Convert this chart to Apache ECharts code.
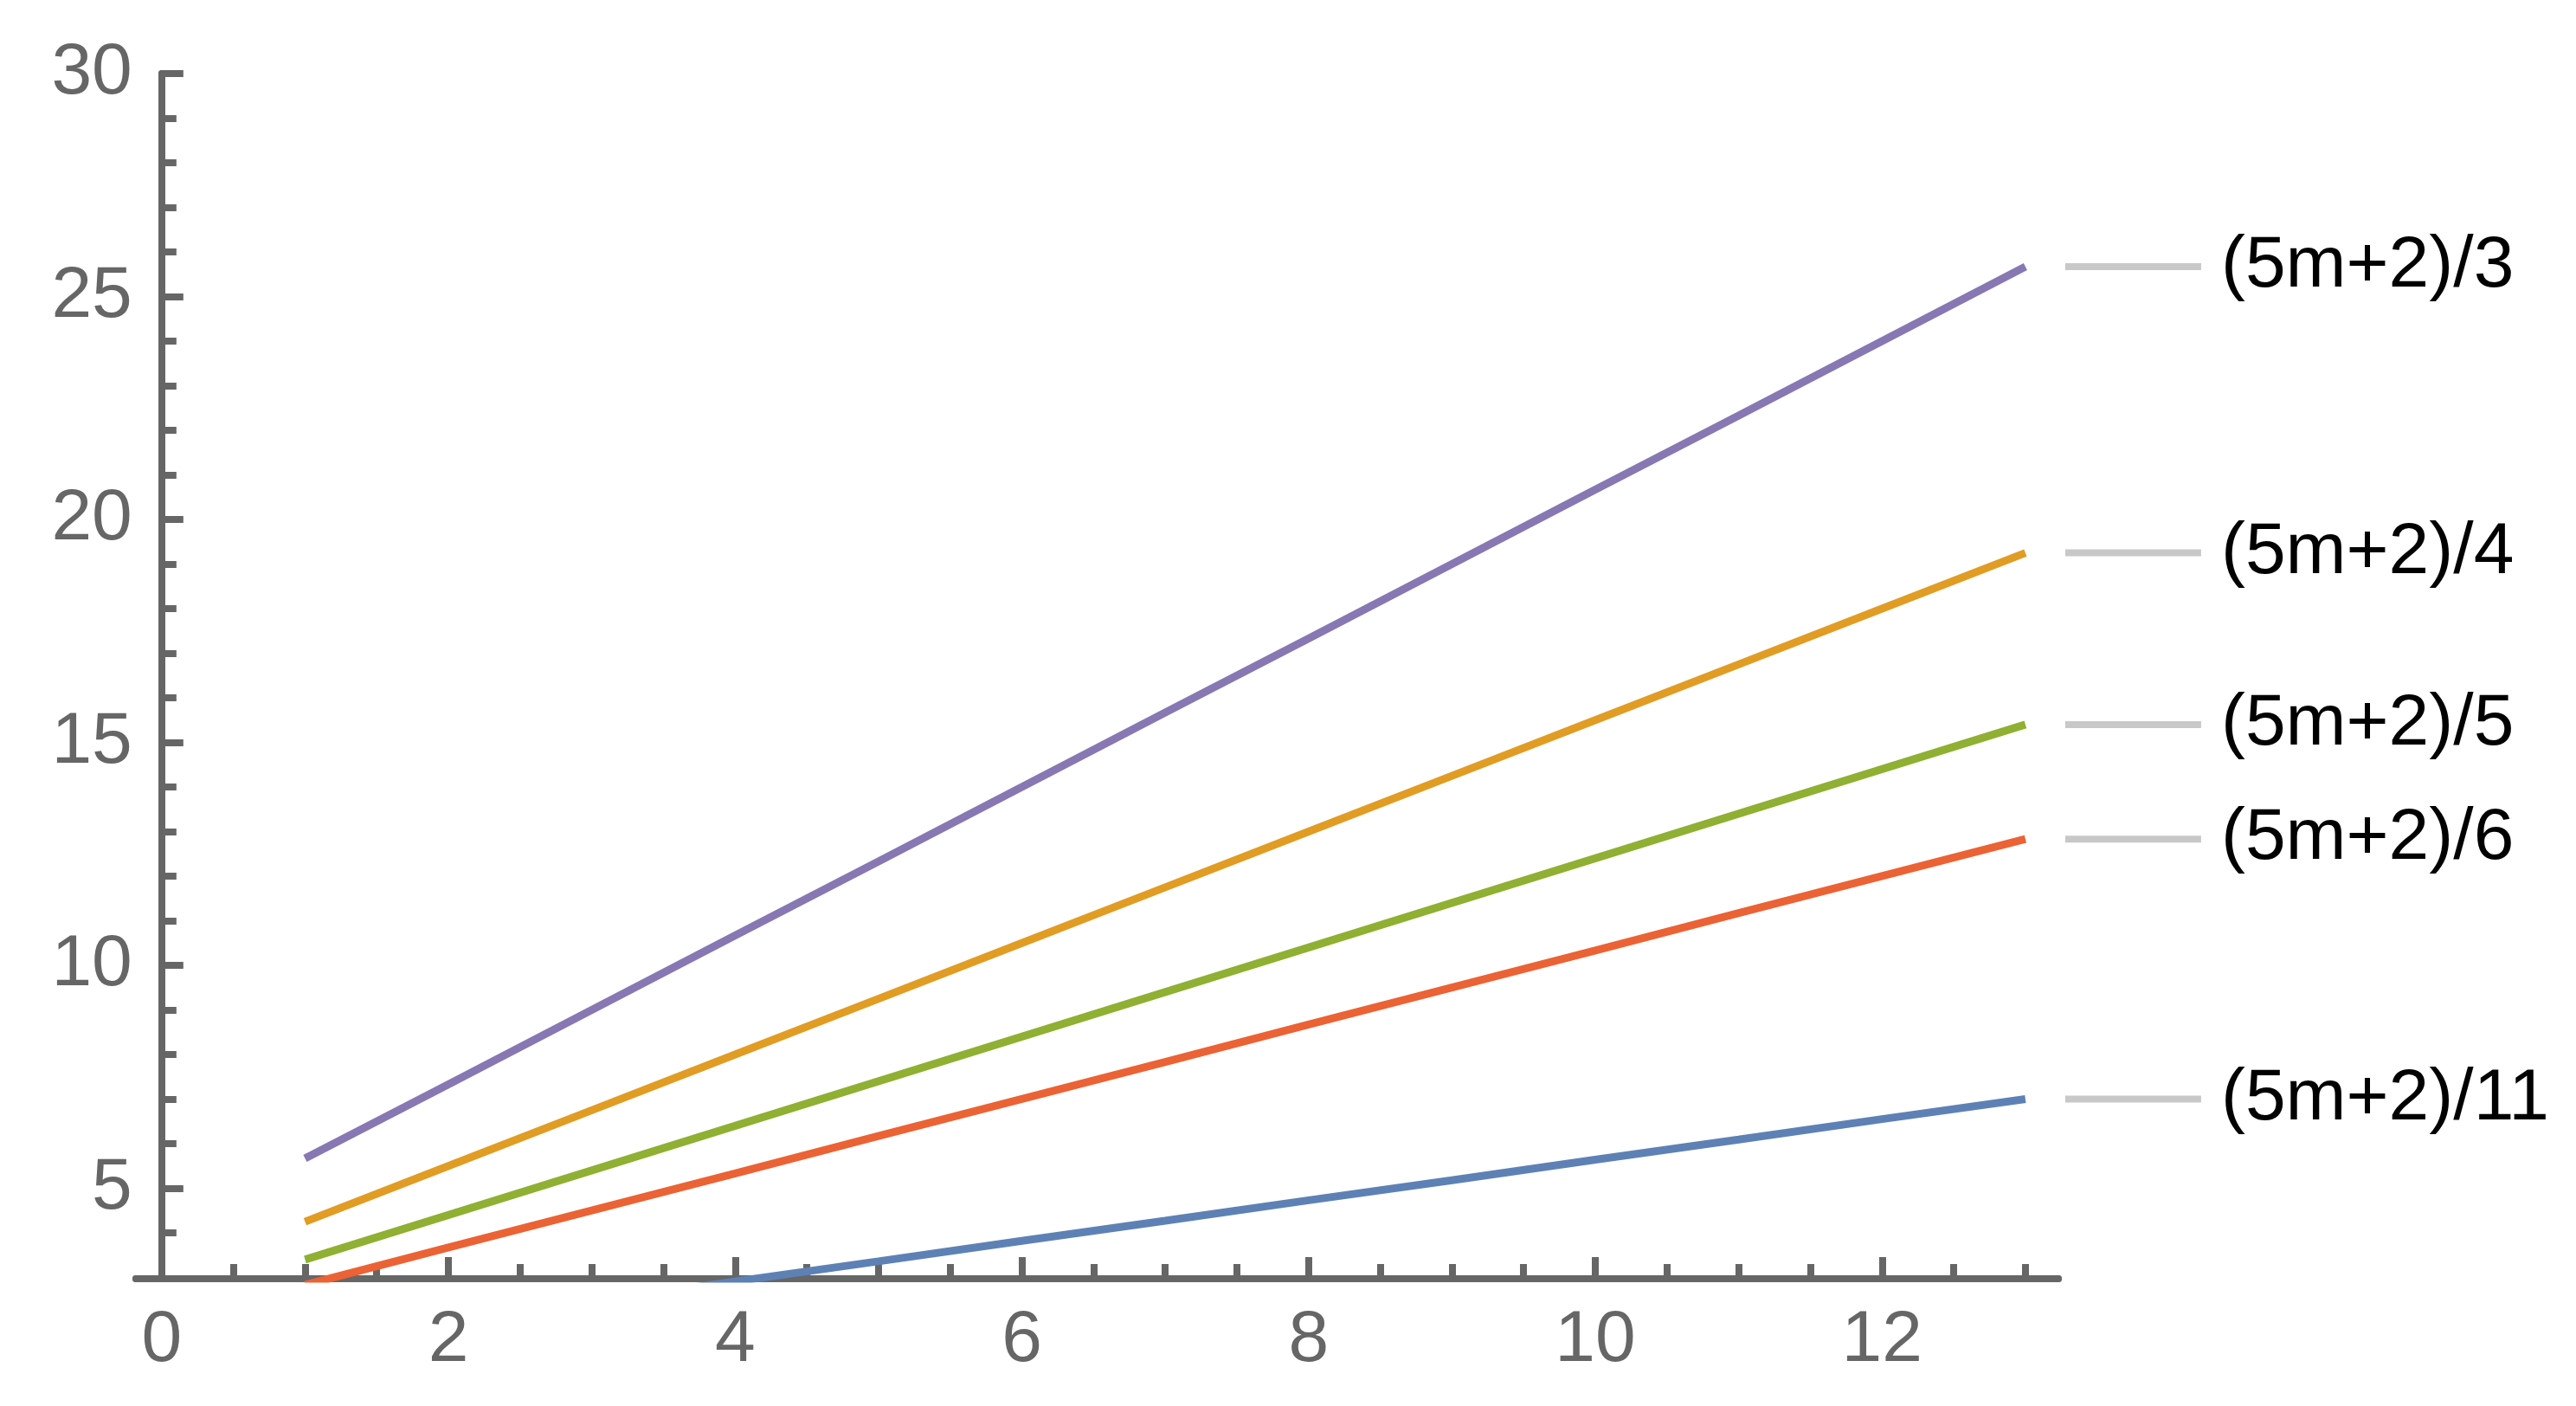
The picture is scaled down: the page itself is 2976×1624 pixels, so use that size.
<!DOCTYPE html>
<html>
<head>
<meta charset="utf-8">
<script src="https://cdn.jsdelivr.net/npm/echarts@6/dist/echarts.min.js"></script>
<style>
  html, body { margin: 0; padding: 0; background: #fff; }
  #chart { width: 2976px; height: 1624px; }
</style>
</head>
<body>
<div id="chart"></div>
<script>
// x positions of the plotted points
const xValues = [1, 2, 3, 4, 5, 6, 7, 8, 9, 10, 11, 12, 13]

// values, one list per curve
const valuesDiv3 = [5.67, 7.33, 9.0, 10.67, 12.33, 14.0, 15.67, 17.33, 19.0, 20.67, 22.33, 24.0, 25.67]
const valuesDiv4 = [4.25, 5.5, 6.75, 8.0, 9.25, 10.5, 11.75, 13.0, 14.25, 15.5, 16.75, 18.0, 19.25]
const valuesDiv5 = [3.4, 4.4, 5.4, 6.4, 7.4, 8.4, 9.4, 10.4, 11.4, 12.4, 13.4, 14.4, 15.4]
const valuesDiv6 = [2.83, 3.67, 4.5, 5.33, 6.17, 7.0, 7.83, 8.67, 9.5, 10.33, 11.17, 12.0, 12.83]
const valuesDiv11 = [1.55, 2.0, 2.45, 2.91, 3.36, 3.82, 4.27, 4.73, 5.18, 5.64, 6.09, 6.55, 7.0]

const seriesNames = ['(5m+2)/3', '(5m+2)/4', '(5m+2)/5', '(5m+2)/6', '(5m+2)/11']
const seriesValues = [valuesDiv3, valuesDiv4, valuesDiv5, valuesDiv6, valuesDiv11]
const seriesColors = ['#8778B3', '#E19C24', '#8FB032', '#EB6235', '#5E81B5']

// tick positions
const xMajorTicks = [0, 2, 4, 6, 8, 10, 12]
const xMinorTicks = [0.5, 1, 1.5, 2.5, 3, 3.5, 4.5, 5, 5.5, 6.5, 7, 7.5, 8.5, 9, 9.5, 10.5, 11, 11.5, 12.5, 13]
const yMajorTicks = [5, 10, 15, 20, 25, 30]
const yMinorTicks = [4, 6, 7, 8, 9, 11, 12, 13, 14, 16, 17, 18, 19, 21, 22, 23, 24, 26, 27, 28, 29]

const X_MIN = -0.18, X_MAX = 13.23
const Y_MIN = 2.97, Y_MAX = 30

const GRID = { left: 157, right: 598, top: 85, bottom: 147 }
const WIDTH = 2976
// the y axis stands at x = 0, a little inside the left edge of the x axis
const yAxisShift = (0 - X_MIN) / (X_MAX - X_MIN) * (WIDTH - GRID.left - GRID.right)

const FONT = '"Liberation Sans", Arial, sans-serif'
const AXIS_GRAY = '#666666'
const axisLineStyle = { color: AXIS_GRAY, width: 8 }

const chart = echarts.init(document.getElementById('chart'))

const makeX = (ticks, len, withLabels) => ({
  type: 'value',
  min: X_MIN,
  max: X_MAX,
  position: 'bottom',
  axisLine: { show: true, onZero: false, lineStyle: axisLineStyle },
  axisTick: { show: true, inside: true, length: len, customValues: ticks, lineStyle: axisLineStyle },
  axisLabel: withLabels
    ? { show: true, customValues: ticks, margin: 30, fontSize: 84, color: AXIS_GRAY, fontFamily: FONT }
    : { show: false },
  splitLine: { show: false }
})

const makeY = (ticks, len, withLabels) => ({
  type: 'value',
  min: Y_MIN,
  max: Y_MAX,
  position: 'left',
  offset: -yAxisShift,
  axisLine: { show: true, onZero: false, lineStyle: axisLineStyle },
  axisTick: { show: true, inside: true, length: len, customValues: ticks, lineStyle: axisLineStyle },
  axisLabel: withLabels
    ? { show: true, customValues: ticks, margin: 34, fontSize: 84, color: AXIS_GRAY, fontFamily: FONT }
    : { show: false },
  splitLine: { show: false }
})

const option = {
  animation: false,
  backgroundColor: '#ffffff',
  grid: Object.assign({ containLabel: false, outerBoundsMode: 'none' }, GRID),
  xAxis: [makeX(xMinorTicks, 17, false), makeX(xMajorTicks, 25, true)],
  yAxis: [makeY(yMinorTicks, 17, false), makeY(yMajorTicks, 25, true)],
  series: seriesNames.map((name, i) => ({
    name: name,
    type: 'line',
    xAxisIndex: 0,
    yAxisIndex: 0,
    data: xValues.map((x, j) => [x, seriesValues[i][j]]),
    showSymbol: false,
    symbol: 'none',
    clip: true,
    lineStyle: { color: seriesColors[i], width: 9 },
    emphasis: { disabled: true },
    endLabel: {
      show: true,
      distance: 46,
      formatter: () => '{lead| }{txt|' + name + '}',
      rich: {
        lead: { width: 157, height: 8, backgroundColor: '#c8c8c8' },
        txt: { fontSize: 84, color: '#000000', fontFamily: FONT, padding: [0, 0, 0, 23] }
      }
    }
  }))
}

chart.setOption(option)
</script>
</body>
</html>
